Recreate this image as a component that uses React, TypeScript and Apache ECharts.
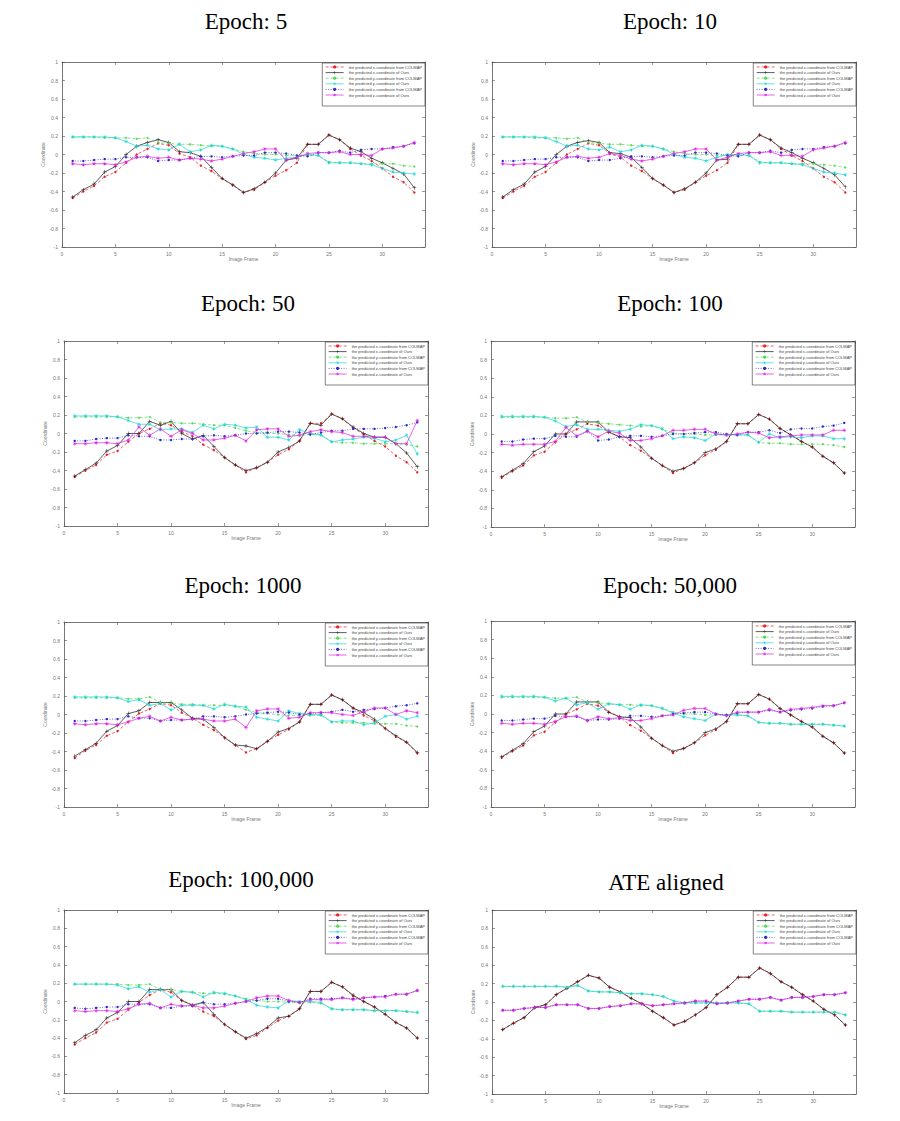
import React, { useEffect, useRef } from "react";
import * as echarts from "echarts";

const frames = [1,2,3,4,5,6,7,8,9,10,11,12,13,14,15,16,17,18,19,20,21,22,23,24,25,26,27,28,29,30,31,32,33];

const seriesNames = [
  "the predicted x-coordinate from COLMAP",
  "the predicted x-coordinate of Ours",
  "the predicted y-coordinate from COLMAP",
  "the predicted y-coordinate of Ours",
  "the predicted z-coordinate from COLMAP",
  "the predicted z-coordinate of Ours",
];

const titles = ["Epoch: 5", "Epoch: 10", "Epoch: 50", "Epoch: 100", "Epoch: 1000", "Epoch: 50,000", "Epoch: 100,000", "ATE aligned"];

// Epoch 5
const xC5 = [-0.47,-0.40,-0.34,-0.24,-0.19,-0.09,0.00,0.06,0.12,0.10,0.01,-0.03,-0.12,-0.18,-0.26,-0.33,-0.41,-0.38,-0.30,-0.23,-0.17,-0.09,0.11,0.11,0.21,0.16,0.06,-0.01,-0.07,-0.15,-0.24,-0.30,-0.41];
const xO5 = [-0.46,-0.38,-0.32,-0.19,-0.13,0.00,0.09,0.13,0.16,0.13,0.03,0.02,-0.02,-0.14,-0.26,-0.33,-0.41,-0.37,-0.30,-0.20,-0.06,-0.04,0.11,0.11,0.21,0.16,0.07,0.03,-0.04,-0.09,-0.15,-0.21,-0.36];
const yC5 = [0.19,0.19,0.19,0.18,0.18,0.18,0.17,0.18,0.13,0.12,0.11,0.11,0.10,0.09,0.09,0.06,0.03,0.01,0.00,0.00,-0.01,-0.01,-0.01,-0.01,-0.08,-0.09,-0.09,-0.10,-0.10,-0.10,-0.10,-0.12,-0.13];
const yO5 = [0.19,0.19,0.19,0.19,0.18,0.14,0.09,0.10,0.06,0.05,0.11,0.03,0.05,0.10,0.09,0.06,0.00,-0.03,-0.04,-0.06,-0.04,-0.03,0.00,-0.01,-0.09,-0.09,-0.09,-0.10,-0.11,-0.15,-0.19,-0.20,-0.21];
const zC5 = [-0.07,-0.07,-0.06,-0.05,-0.05,-0.03,-0.03,-0.03,-0.07,-0.06,-0.06,-0.04,-0.02,-0.02,-0.03,-0.02,-0.01,-0.01,0.02,0.02,0.01,-0.01,-0.02,0.02,0.02,0.04,0.02,0.05,0.06,0.06,0.08,0.09,0.12];
const zO5 = [-0.10,-0.11,-0.10,-0.10,-0.11,-0.08,-0.03,-0.02,-0.04,-0.03,-0.06,-0.04,-0.05,-0.07,-0.05,-0.02,0.01,0.03,0.06,0.06,-0.06,-0.03,0.01,0.02,0.02,0.03,0.00,0.00,-0.01,0.06,0.07,0.09,0.13];

// Epoch 10
const xC10 = [-0.47,-0.40,-0.34,-0.24,-0.19,-0.09,0.00,0.06,0.12,0.10,0.01,-0.03,-0.12,-0.18,-0.26,-0.33,-0.41,-0.38,-0.30,-0.23,-0.17,-0.09,0.11,0.11,0.21,0.16,0.06,-0.01,-0.07,-0.15,-0.24,-0.30,-0.41];
const xO10 = [-0.46,-0.38,-0.32,-0.19,-0.13,0.00,0.09,0.13,0.15,0.13,0.02,0.01,-0.03,-0.14,-0.26,-0.33,-0.41,-0.37,-0.30,-0.20,-0.06,-0.05,0.11,0.11,0.21,0.16,0.07,0.02,-0.04,-0.09,-0.15,-0.22,-0.35];
const yC10 = [0.19,0.19,0.19,0.18,0.18,0.18,0.17,0.18,0.13,0.12,0.11,0.11,0.10,0.09,0.09,0.06,0.03,0.01,0.00,0.00,-0.01,-0.01,-0.01,-0.01,-0.08,-0.09,-0.09,-0.10,-0.10,-0.10,-0.11,-0.12,-0.14];
const yO10 = [0.19,0.19,0.19,0.19,0.18,0.14,0.09,0.10,0.06,0.05,0.08,0.03,0.05,0.10,0.09,0.06,0.00,-0.03,-0.04,-0.07,-0.03,0.00,0.00,-0.01,-0.09,-0.09,-0.09,-0.10,-0.11,-0.15,-0.19,-0.20,-0.22];
const zC10 = [-0.07,-0.07,-0.06,-0.05,-0.05,-0.03,-0.03,-0.03,-0.07,-0.06,-0.06,-0.04,-0.02,-0.02,-0.03,-0.02,-0.01,-0.01,0.02,0.02,0.01,-0.01,-0.02,0.02,0.02,0.04,0.02,0.05,0.06,0.06,0.08,0.09,0.12];
const zO10 = [-0.10,-0.11,-0.10,-0.10,-0.11,-0.08,-0.03,-0.02,-0.04,-0.03,0.01,-0.01,-0.05,-0.07,-0.05,-0.02,0.01,0.03,0.06,0.06,-0.06,-0.03,0.01,0.02,0.02,0.03,-0.01,-0.01,-0.02,0.05,0.07,0.09,0.13];

// Epoch 50
const xC50 = [-0.47,-0.40,-0.34,-0.23,-0.19,-0.09,0.00,0.05,0.11,0.09,0.02,-0.03,-0.12,-0.18,-0.26,-0.34,-0.42,-0.37,-0.31,-0.23,-0.17,-0.08,0.11,0.11,0.21,0.16,0.06,-0.01,-0.08,-0.14,-0.24,-0.31,-0.42];
const xO50 = [-0.46,-0.39,-0.32,-0.19,-0.13,0.00,0.00,0.13,0.09,0.13,0.00,-0.06,-0.02,-0.14,-0.26,-0.34,-0.40,-0.37,-0.31,-0.20,-0.15,-0.08,0.11,0.09,0.21,0.16,0.07,0.00,-0.04,-0.04,-0.11,-0.21,-0.36];
const yC50 = [0.18,0.18,0.18,0.18,0.18,0.17,0.17,0.18,0.12,0.12,0.11,0.11,0.10,0.09,0.09,0.06,0.03,0.01,0.00,0.00,-0.01,-0.02,-0.01,-0.01,-0.09,-0.10,-0.10,-0.11,-0.11,-0.11,-0.11,-0.12,-0.14];
const yO50 = [0.19,0.19,0.19,0.19,0.18,0.14,0.10,0.10,0.04,0.05,0.05,0.01,0.09,0.05,0.10,0.09,0.06,0.07,-0.04,-0.04,-0.07,0.04,0.00,-0.02,-0.09,-0.07,-0.06,-0.04,-0.05,-0.09,-0.07,-0.02,-0.22];
const zC50 = [-0.08,-0.08,-0.06,-0.05,-0.05,-0.02,-0.03,-0.03,-0.07,-0.07,-0.06,-0.06,-0.03,-0.02,-0.03,-0.02,0.00,0.00,0.01,0.02,0.02,0.01,-0.01,0.01,0.03,0.03,0.05,0.05,0.05,0.06,0.07,0.09,0.12];
const zO50 = [-0.11,-0.11,-0.10,-0.10,-0.11,-0.07,0.07,-0.02,0.05,-0.03,0.04,0.00,-0.07,-0.07,-0.05,-0.02,-0.08,0.04,0.05,0.05,-0.03,-0.02,0.02,0.04,0.02,0.01,-0.03,-0.03,-0.04,-0.04,-0.11,-0.11,0.14];

// Epoch 100
const xC100 = [-0.47,-0.40,-0.34,-0.23,-0.19,-0.09,0.00,0.05,0.11,0.09,0.02,-0.03,-0.12,-0.18,-0.26,-0.34,-0.42,-0.37,-0.31,-0.23,-0.17,-0.08,0.11,0.11,0.21,0.16,0.06,-0.01,-0.08,-0.14,-0.24,-0.31,-0.42];
const xO100 = [-0.46,-0.39,-0.32,-0.19,-0.13,0.00,0.00,0.13,0.13,0.13,0.02,-0.03,-0.04,-0.14,-0.26,-0.34,-0.40,-0.37,-0.31,-0.20,-0.16,-0.08,0.11,0.11,0.21,0.16,0.06,-0.01,-0.08,-0.14,-0.24,-0.31,-0.42];
const yC100 = [0.18,0.18,0.18,0.18,0.18,0.17,0.17,0.18,0.13,0.12,0.11,0.10,0.09,0.08,0.09,0.05,0.01,0.00,0.00,-0.01,-0.01,-0.01,-0.01,-0.01,-0.09,-0.10,-0.10,-0.11,-0.11,-0.11,-0.11,-0.12,-0.14];
const yO100 = [0.19,0.19,0.19,0.19,0.18,0.14,0.08,0.10,0.05,0.05,0.04,0.03,0.05,0.10,0.09,0.06,-0.05,-0.03,-0.04,-0.07,0.00,-0.01,-0.01,-0.01,-0.09,0.00,-0.04,-0.03,-0.04,-0.02,-0.02,-0.05,-0.05];
const zC100 = [-0.08,-0.08,-0.06,-0.05,-0.05,-0.02,-0.03,-0.03,0.03,-0.07,-0.06,-0.03,-0.02,-0.02,-0.03,-0.02,0.00,0.00,0.01,0.02,0.02,0.00,-0.01,0.02,0.02,0.04,0.01,0.05,0.06,0.06,0.08,0.09,0.12];
const zO100 = [-0.11,-0.12,-0.11,-0.11,-0.11,-0.08,0.07,-0.02,0.03,-0.03,0.03,0.01,-0.07,-0.07,-0.05,-0.02,0.04,0.04,0.05,0.05,0.00,-0.01,0.00,0.02,0.01,-0.04,-0.03,-0.02,-0.01,-0.01,-0.01,0.04,0.04];

// Epoch 1000
const xC1000 = [-0.47,-0.39,-0.33,-0.23,-0.18,-0.08,0.01,0.06,0.12,0.10,0.02,-0.04,-0.11,-0.17,-0.25,-0.33,-0.41,-0.37,-0.29,-0.22,-0.16,-0.08,0.11,0.11,0.21,0.16,0.07,-0.01,-0.07,-0.15,-0.24,-0.30,-0.42];
const xO1000 = [-0.45,-0.38,-0.31,-0.18,-0.12,0.01,0.04,0.13,0.13,0.13,0.05,-0.04,-0.05,-0.14,-0.25,-0.33,-0.34,-0.37,-0.29,-0.19,-0.15,-0.08,0.11,0.11,0.21,0.16,0.07,0.02,-0.05,-0.15,-0.23,-0.30,-0.41];
const yC1000 = [0.18,0.18,0.18,0.18,0.18,0.17,0.17,0.19,0.13,0.12,0.11,0.11,0.10,0.10,0.10,0.09,0.05,0.02,0.01,0.00,-0.01,-0.01,-0.01,-0.01,-0.08,-0.09,-0.09,-0.09,-0.10,-0.10,-0.10,-0.12,-0.13];
const yO1000 = [0.19,0.19,0.19,0.19,0.18,0.14,0.16,0.10,0.12,0.05,0.10,0.10,0.10,0.06,0.11,0.09,0.08,-0.03,-0.05,-0.07,0.04,0.01,0.00,0.00,-0.08,-0.07,-0.07,-0.11,-0.09,-0.02,0.00,-0.05,-0.02];
const zC1000 = [-0.07,-0.07,-0.06,-0.05,-0.05,-0.02,-0.04,-0.04,-0.07,-0.06,-0.06,-0.05,-0.02,-0.02,-0.03,-0.02,0.00,0.01,0.02,0.03,0.02,0.00,0.01,0.02,0.03,0.05,0.03,0.05,0.06,0.07,0.09,0.10,0.12];
const zO1000 = [-0.10,-0.11,-0.10,-0.10,-0.11,-0.08,-0.04,-0.02,-0.07,-0.03,-0.06,-0.05,-0.05,-0.07,-0.07,-0.05,-0.14,0.04,0.06,0.06,-0.04,-0.03,0.02,0.02,0.02,0.00,-0.01,0.03,0.07,0.07,0.00,0.04,0.02];

// Epoch 50,000
const xC50k = [-0.47,-0.40,-0.34,-0.23,-0.19,-0.09,0.00,0.05,0.11,0.09,0.02,-0.03,-0.12,-0.18,-0.26,-0.34,-0.42,-0.37,-0.31,-0.23,-0.17,-0.08,0.11,0.11,0.21,0.16,0.06,-0.01,-0.08,-0.14,-0.24,-0.31,-0.42];
const xO50k = [-0.46,-0.39,-0.32,-0.19,-0.13,0.00,0.00,0.13,0.13,0.13,0.02,-0.03,-0.04,-0.14,-0.26,-0.34,-0.40,-0.37,-0.31,-0.20,-0.16,-0.08,0.11,0.11,0.21,0.16,0.06,-0.01,-0.08,-0.14,-0.24,-0.31,-0.42];
const yC50k = [0.18,0.18,0.18,0.18,0.18,0.17,0.17,0.18,0.13,0.12,0.11,0.10,0.10,0.09,0.09,0.06,0.02,0.00,0.00,-0.01,-0.01,-0.01,-0.01,-0.02,-0.09,-0.10,-0.10,-0.11,-0.11,-0.11,-0.11,-0.12,-0.13];
const yO50k = [0.19,0.19,0.19,0.19,0.18,0.14,0.17,0.10,0.12,0.05,0.11,0.10,0.05,0.10,0.09,0.06,0.01,-0.03,-0.05,-0.07,0.00,-0.01,-0.01,-0.02,-0.09,-0.10,-0.10,-0.11,-0.11,-0.11,-0.11,-0.12,-0.13];
const zC50k = [-0.07,-0.07,-0.06,-0.05,-0.05,-0.02,-0.03,-0.03,-0.07,-0.06,-0.06,-0.05,-0.02,-0.02,-0.03,-0.02,0.00,0.01,0.02,0.02,0.00,-0.01,0.01,0.02,0.02,0.04,0.02,0.04,0.05,0.06,0.08,0.09,0.12];
const zO50k = [-0.10,-0.11,-0.10,-0.10,-0.11,-0.08,-0.03,-0.02,-0.07,-0.03,-0.05,-0.04,-0.07,-0.07,-0.05,-0.02,-0.01,0.04,0.06,0.06,0.00,-0.02,0.02,0.02,0.02,0.05,0.02,0.05,0.06,0.07,0.09,0.09,0.12];

// Epoch 100,000
const xC100k = [-0.47,-0.40,-0.34,-0.23,-0.19,-0.09,-0.01,0.07,0.13,0.10,0.01,-0.04,-0.11,-0.16,-0.25,-0.33,-0.41,-0.37,-0.29,-0.21,-0.16,-0.08,0.11,0.11,0.21,0.16,0.06,0.00,-0.06,-0.14,-0.23,-0.29,-0.40];
const xO100k = [-0.45,-0.37,-0.31,-0.18,-0.12,0.00,0.00,0.13,0.13,0.13,0.01,-0.04,-0.01,-0.14,-0.25,-0.33,-0.40,-0.35,-0.28,-0.18,-0.16,-0.08,0.11,0.11,0.21,0.16,0.07,0.00,-0.06,-0.14,-0.23,-0.29,-0.40];
const yC100k = [0.19,0.19,0.19,0.19,0.19,0.18,0.18,0.19,0.13,0.13,0.11,0.10,0.09,0.09,0.08,0.06,0.03,0.01,0.00,0.00,-0.01,-0.01,-0.01,-0.02,-0.08,-0.09,-0.09,-0.09,-0.10,-0.10,-0.10,-0.11,-0.12];
const yO100k = [0.19,0.19,0.19,0.19,0.18,0.14,0.16,0.10,0.13,0.05,0.11,0.10,0.05,0.10,0.09,0.06,0.02,-0.04,-0.06,-0.07,0.01,0.00,0.00,-0.01,-0.08,-0.09,-0.09,-0.09,-0.10,-0.10,-0.10,-0.11,-0.12];
const zC100k = [-0.07,-0.08,-0.07,-0.06,-0.06,-0.03,-0.03,-0.03,-0.07,-0.07,-0.05,-0.05,-0.01,-0.03,-0.03,-0.02,0.00,0.01,0.03,0.03,0.00,-0.01,0.03,0.03,0.03,0.04,0.03,0.04,0.05,0.06,0.08,0.08,0.12];
const zO100k = [-0.10,-0.11,-0.10,-0.10,-0.11,-0.08,-0.03,-0.02,-0.07,-0.03,-0.05,-0.04,-0.07,-0.07,-0.05,-0.02,0.00,0.04,0.06,0.06,0.01,-0.01,0.02,0.02,0.02,0.04,0.02,0.04,0.05,0.05,0.08,0.08,0.12];

// ATE aligned (COLMAP and Ours coincide)
const xAte = [-0.30,-0.23,-0.17,-0.06,-0.03,0.08,0.15,0.22,0.29,0.26,0.16,0.11,0.04,-0.02,-0.10,-0.17,-0.25,-0.21,-0.14,-0.06,0.08,0.16,0.27,0.27,0.37,0.31,0.22,0.16,0.08,0.01,-0.08,-0.14,-0.25];
const yAte = [0.17,0.17,0.17,0.17,0.17,0.17,0.16,0.18,0.12,0.11,0.11,0.10,0.09,0.09,0.08,0.06,0.01,-0.01,-0.01,-0.01,-0.01,-0.01,-0.01,-0.02,-0.10,-0.10,-0.10,-0.11,-0.11,-0.11,-0.11,-0.11,-0.14];
const zAte = [-0.09,-0.09,-0.07,-0.06,-0.06,-0.03,-0.03,-0.03,-0.07,-0.07,-0.05,-0.04,-0.02,-0.02,-0.04,-0.03,-0.02,-0.01,0.01,0.01,-0.02,-0.01,0.01,0.03,0.03,0.05,0.02,0.05,0.05,0.06,0.08,0.08,0.10];

const panelData = [
  [xC5, xO5, yC5, yO5, zC5, zO5],
  [xC10, xO10, yC10, yO10, zC10, zO10],
  [xC50, xO50, yC50, yO50, zC50, zO50],
  [xC100, xO100, yC100, yO100, zC100, zO100],
  [xC1000, xO1000, yC1000, yO1000, zC1000, zO1000],
  [xC50k, xO50k, yC50k, yO50k, zC50k, zO50k],
  [xC100k, xO100k, yC100k, yO100k, zC100k, zO100k],
  [xAte, xAte, yAte, yAte, zAte, zAte],
];

// layout: [left, top, right, bottom, titleCenterX, titleTop]
const layout = [
  [62, 62, 425, 247, 241, 5],
  [492, 62, 856, 247, 665, 5],
  [64, 341, 428, 526, 243, 287],
  [491, 341, 855, 527, 665, 287],
  [64, 622, 428, 807, 238, 569],
  [491, 621, 855, 807, 665, 569],
  [64, 910, 428, 1093, 236, 863],
  [492, 910, 856, 1094, 661, 866],
];

const colors = ["#e6222a", "#1a1a1a", "#55d855", "#22d6d6", "#2a2acc", "#de22de"];
const lineTypes: any[] = [[3, 2], "solid", [3, 2], "solid", [1, 1.5], "solid"];
const PLUS = "path://M4.4,0h1.2v10h-1.2zM0,4.4h10v1.2h-10z";
const STAR = "path://M4.5,0h1v10h-1zM0,4.5h10v1h-10zM1.3,2l0.7,-0.7l6.7,6.7l-0.7,0.7zM8,1.3l0.7,0.7l-6.7,6.7l-0.7,-0.7z";
const symbols = ["circle", PLUS, "circle", STAR, "circle", STAR];
const symbolSizes = [2.4, 4, 2.2, 4, 2.4, 4];

const AXC = "#555";
const LBL = "#777";

export default function App() {
  const ref = useRef<HTMLDivElement>(null);
  useEffect(() => {
    if (!ref.current) return;
    const chart = echarts.init(ref.current, undefined, { renderer: "svg" });
    const grid: any[] = [];
    const xAxis: any[] = [];
    const yAxis: any[] = [];
    const series: any[] = [];
    const legend: any[] = [];
    const title: any[] = [];
    layout.forEach((L, i) => {
      const [l, t, r, b, tx, ty] = L;
      grid.push({ left: l, top: t, width: r - l, height: b - t, containLabel: false });
      title.push({
        text: titles[i],
        left: tx,
        top: ty,
        textAlign: "center",
        textStyle: { fontFamily: "Liberation Serif", fontSize: 23, fontWeight: "normal", color: "#000" },
      });
      const common = {
        gridIndex: i,
        type: "value",
        splitLine: { show: false },
        axisLine: { show: true, onZero: false, lineStyle: { color: AXC, width: 0.8 } },
        axisTick: { show: true, inside: true, length: 3, lineStyle: { color: AXC, width: 0.6 } },
      };
      xAxis.push({
        ...common,
        position: "bottom",
        min: 0,
        max: 34,
        interval: 5,
        axisLabel: { fontSize: 5, color: LBL, margin: 4, showMaxLabel: false, fontFamily: "Liberation Sans" },
        name: "Image Frame",
        nameLocation: "middle",
        nameGap: 9,
        nameTextStyle: { fontSize: 5, color: LBL, fontFamily: "Liberation Sans" },
      });
      xAxis.push({
        ...common,
        position: "top",
        min: 0,
        max: 34,
        interval: 5,
        axisLabel: { show: false },
      });
      yAxis.push({
        ...common,
        position: "left",
        min: -1,
        max: 1,
        interval: 0.2,
        axisLabel: {
          fontSize: 5,
          color: LBL,
          margin: 4,
          fontFamily: "Liberation Sans",
          formatter: (v: number) => String(Math.round(v * 10) / 10),
        },
        name: "Coordinate",
        nameLocation: "middle",
        nameGap: 12,
        nameTextStyle: { fontSize: 5, color: LBL, fontFamily: "Liberation Sans" },
      });
      yAxis.push({
        ...common,
        position: "right",
        min: -1,
        max: 1,
        interval: 0.2,
        axisLabel: { show: false },
      });
      legend.push({
        orient: "vertical",
        right: 900 - r,
        top: t + 1,
        backgroundColor: "#fff",
        borderColor: "#333",
        borderWidth: 0.6,
        borderRadius: 0,
        padding: [2, 3, 9, 3],
        itemWidth: 18,
        itemHeight: 4,
        itemGap: 1.6,
        selectedMode: false,
        lineStyle: { width: 0.7 },
        data: seriesNames,
        textStyle: { fontSize: 4, color: "#444", fontFamily: "Liberation Sans" },
      });
      panelData[i].forEach((arr, s) => {
        series.push({
          name: seriesNames[s],
          type: "line",
          xAxisIndex: i * 2,
          yAxisIndex: i * 2,
          data: frames.map((f, k) => [f, arr[k]]),
          symbol: symbols[s],
          symbolSize: symbolSizes[s],
          showSymbol: true,
          lineStyle: { color: colors[s], width: 0.7, type: lineTypes[s] },
          itemStyle: { color: colors[s] },
          emphasis: { disabled: true },
        });
      });
    });
    chart.setOption({
      animation: false,
      backgroundColor: "#fff",
      title,
      grid,
      xAxis,
      yAxis,
      legend,
      series,
    });
    return () => chart.dispose();
  }, []);
  return (
    <div
      ref={ref}
      style={{ position: "absolute", left: 0, top: 0, width: 900, height: 1121 }}
    />
  );
}
